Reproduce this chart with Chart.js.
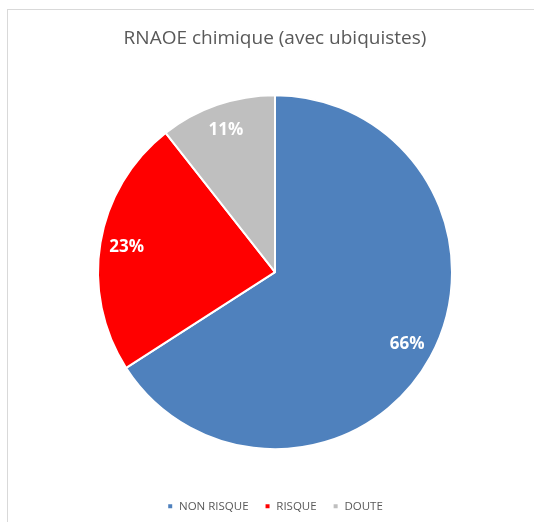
<!DOCTYPE html>
<html lang="fr">
<head>
    <meta charset="UTF-8">
    <title>RNAOE chimique (avec ubiquistes)</title>
    <style>
        html, body {
            margin: 0;
            padding: 0;
            background: #fff;
            overflow: hidden;
        }
        #frame {
            position: absolute;
            left: 7px;
            top: 9px;
            width: 540px;
            height: 530px;
            border: 1px solid #d9d9d9;
        }
        #wrap {
            position: absolute;
            left: 0;
            top: 0;
            width: 534px;
            height: 522px;
        }
    </style>
    <script src="https://cdn.jsdelivr.net/npm/chart.js"></script>
</head>
<body>
<div id="frame"></div>
<div id="wrap"><canvas id="pie"></canvas></div>
<script>
// chart data
const categories = ['NON RISQUE', 'RISQUE', 'DOUTE'];
const shares = [65.9, 23.5, 10.6];
const shareLabels = ['66%', '23%', '11%'];
const sliceColors = ['#4f81bd', '#ff0000', '#bfbfbf'];

// draws the percentage inside each slice
const sliceLabels = {
    id: 'sliceLabels',
    afterDatasetsDraw(chart) {
        const ctx = chart.ctx;
        const arcs = chart.getDatasetMeta(0).data;
        ctx.save();
        ctx.font = 'bold 17px "Open Sans", sans-serif';
        ctx.fillStyle = '#ffffff';
        ctx.textAlign = 'center';
        ctx.textBaseline = 'middle';
        arcs.forEach((arc, i) => {
            const mid = (arc.startAngle + arc.endAngle) / 2;
            const r = arc.outerRadius * 0.85;
            ctx.fillText(shareLabels[i], arc.x + Math.cos(mid) * r, arc.y + Math.sin(mid) * r);
        });
        ctx.restore();
    }
};

new Chart(document.getElementById('pie'), {
    type: 'pie',
    data: {
        labels: categories,
        datasets: [{
            data: shares,
            backgroundColor: sliceColors,
            borderColor: '#ffffff',
            borderWidth: 2,
            hoverOffset: 0
        }]
    },
    options: {
        responsive: true,
        maintainAspectRatio: false,
        animation: false,
        layout: {
            padding: { top: 27, left: 97, right: 81, bottom: 0 }
        },
        plugins: {
            tooltip: { enabled: false },
            title: {
                display: true,
                text: 'RNAOE chimique (avec ubiquistes)',
                color: '#595959',
                font: { family: '"Open Sans", sans-serif', size: 19, weight: 'normal' },
                padding: { top: 0, bottom: 10 }
            },
            legend: {
                position: 'bottom',
                labels: {
                    color: '#595959',
                    font: { family: '"Open Sans", sans-serif', size: 11.5 },
                    usePointStyle: true,
                    pointStyle: 'rect',
                    boxWidth: 6,
                    boxHeight: 6,
                    padding: 16
                }
            }
        }
    },
    plugins: [sliceLabels]
});
</script>
</body>
</html>
